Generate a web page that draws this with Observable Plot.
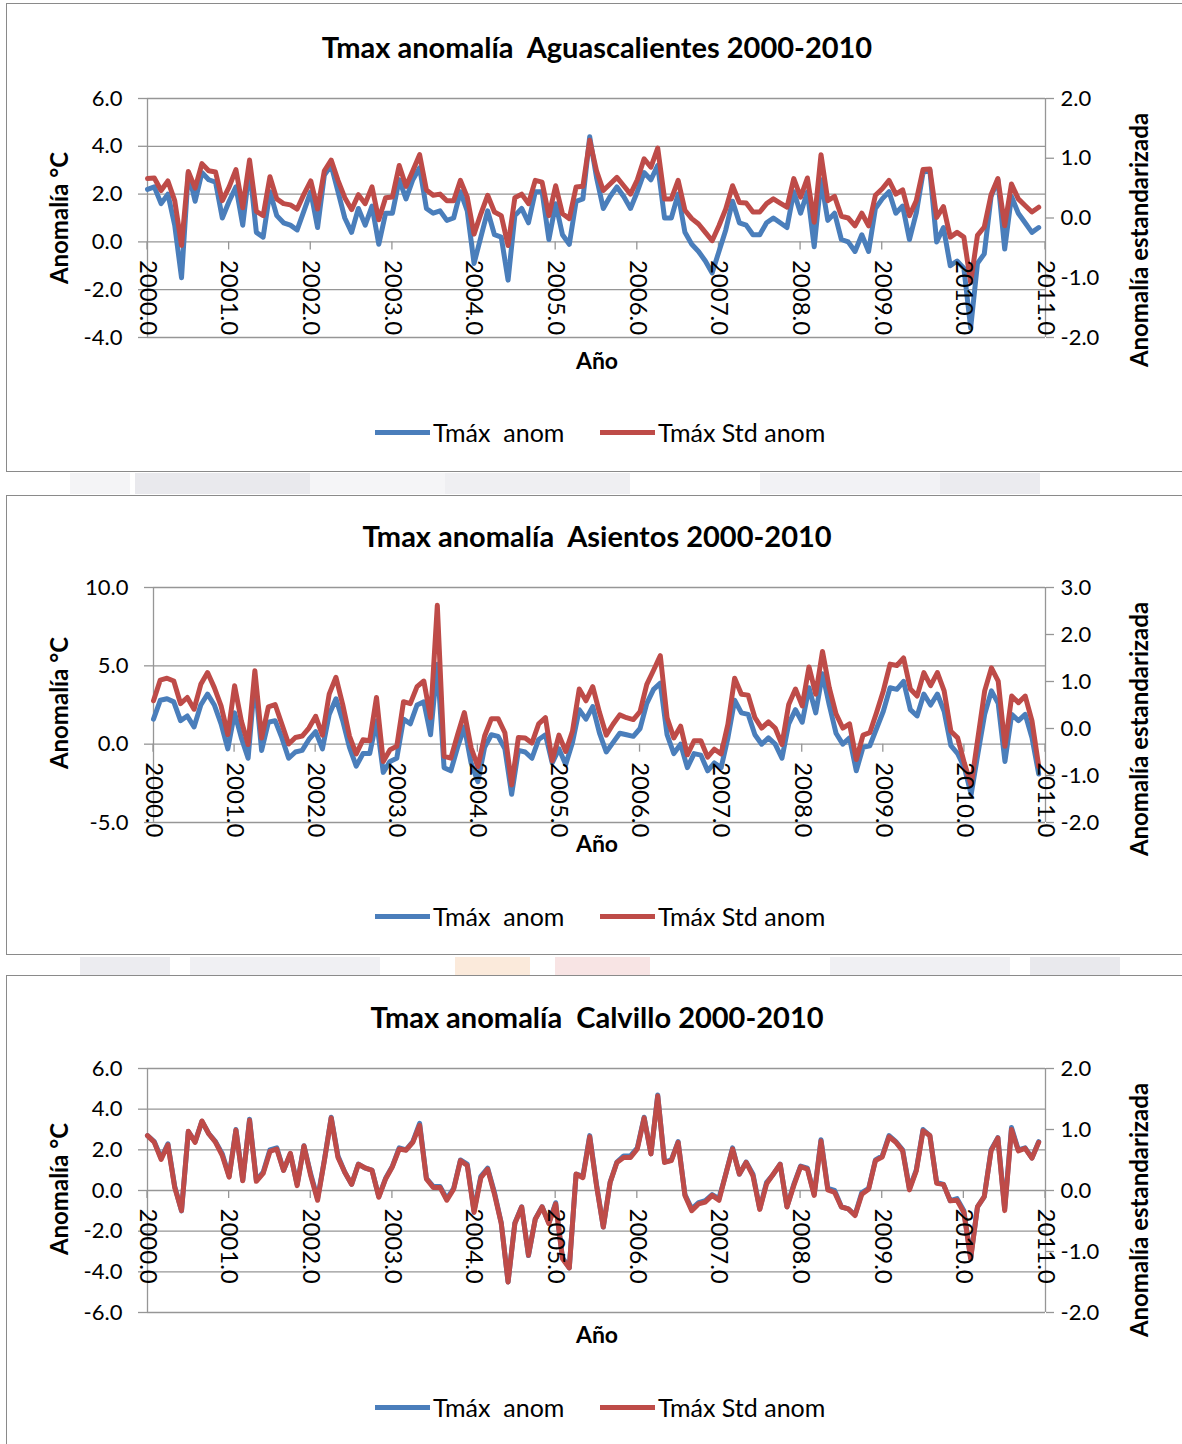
<!DOCTYPE html>
<html><head><meta charset="utf-8">
<script src="https://cdn.jsdelivr.net/npm/d3@7"></script>
<script src="https://cdn.jsdelivr.net/npm/@observablehq/plot@0.6"></script>
<style>
body{margin:0;background:#fff;}
#root{position:relative;width:1182px;height:1444px;overflow:hidden;font-family:Lato,"Open Sans",sans-serif;color:#000;background:#fff;}
.box{position:absolute;border:1.5px solid #8a8a8a;box-sizing:border-box;}
.abs{position:absolute;white-space:pre;}
.title{font-weight:700;font-size:29px;}
.axt{font-weight:700;font-size:24px;}
.ano{font-weight:700;font-size:23px;}
.leg{font-size:25px;}
.swatch{position:absolute;height:5px;}
.band{position:absolute;}
svg{position:absolute;left:0;overflow:visible;}
</style>
</head><body><div id="root"></div>
<script>
// ---------- data ----------
const years = [2000,2001,2002,2003,2004,2005,2006,2007,2008,2009,2010,2011];
const seriesNames = ["Tmáx  anom", "Tmáx Std anom"];

const aguasAnom = [
 2.2,2.3,1.6,2.0,0.7,-1.5,2.9,1.7,2.9,2.6,2.5,1.0,
 1.7,2.3,0.7,3.1,0.4,0.2,2.1,1.1,0.8,0.7,0.5,1.3,
 2.1,0.6,2.8,3.2,2.1,1.0,0.4,1.4,0.7,1.5,-0.1,1.2,
 1.2,2.6,1.8,2.6,3.1,1.4,1.2,1.3,0.9,1.0,2.1,1.3,
 -0.9,0.2,1.3,0.3,0.2,-1.6,1.1,1.4,0.8,2.1,2.1,0.1,
 1.6,0.3,-0.1,1.7,1.8,4.4,2.7,1.4,1.9,2.3,1.9,1.4,
 2.1,2.9,2.6,3.2,1.0,1.0,2.0,0.4,-0.1,-0.4,-0.8,-1.3,
 -0.4,0.5,1.7,0.8,0.7,0.3,0.3,0.8,1.0,0.8,0.6,2.1,
 1.2,2.1,-0.2,2.6,0.9,1.2,0.1,0.0,-0.4,0.3,-0.4,1.4,
 1.8,2.1,1.2,1.5,0.1,1.2,2.9,3.0,0.0,0.6,-1.0,-0.8,
 -1.1,-3.6,-0.9,-0.5,1.9,2.6,-0.3,1.9,1.2,0.8,0.4,0.6];
const aguasStd = [
 0.66,0.67,0.46,0.62,0.29,-0.46,0.78,0.50,0.91,0.79,0.77,0.29,
 0.52,0.81,0.17,0.97,0.11,0.04,0.69,0.32,0.24,0.22,0.15,0.40,
 0.62,0.15,0.79,0.97,0.63,0.34,0.14,0.39,0.24,0.52,-0.03,0.34,
 0.35,0.88,0.53,0.79,1.06,0.47,0.38,0.40,0.29,0.29,0.63,0.35,
 -0.27,0.07,0.38,0.10,0.04,-0.46,0.34,0.40,0.24,0.63,0.60,0.04,
 0.54,0.07,-0.01,0.52,0.53,1.30,0.79,0.46,0.57,0.68,0.54,0.40,
 0.64,0.99,0.85,1.17,0.32,0.32,0.63,0.13,-0.01,-0.10,-0.24,-0.38,
 -0.13,0.15,0.54,0.26,0.25,0.10,0.10,0.24,0.32,0.25,0.18,0.66,
 0.35,0.67,-0.07,1.06,0.29,0.36,0.03,0.00,-0.13,0.08,-0.13,0.38,
 0.49,0.63,0.40,0.47,0.04,0.29,0.81,0.82,0.01,0.19,-0.32,-0.24,
 -0.32,-1.08,-0.29,-0.15,0.39,0.66,-0.13,0.57,0.32,0.21,0.10,0.18];

const asientosAnom = [
 1.6,2.8,2.9,2.7,1.5,1.8,1.1,2.5,3.2,2.5,1.3,-0.3,
 2.0,0.4,-0.9,4.1,-0.4,1.4,1.5,0.4,-0.9,-0.5,-0.4,0.3,
 0.8,-0.3,1.9,2.9,1.5,-0.2,-1.4,-0.6,-0.6,1.5,-1.8,-1.1,
 -0.9,1.6,1.3,2.5,2.7,0.6,5.1,-1.5,-1.7,-0.2,1.1,-1.2,
 -2.4,-0.2,0.6,0.5,-0.3,-3.2,-0.4,-0.5,-0.9,0.3,0.6,-1.2,
 -0.3,-1.3,0.1,2.2,1.6,2.4,0.7,-0.5,0.1,0.7,0.6,0.5,
 1.0,2.6,3.5,3.9,0.6,-0.6,0.0,-1.5,-0.6,-0.7,-1.7,-1.2,
 -1.5,0.4,2.8,2.0,1.9,0.6,0.0,0.4,0.0,-0.9,1.3,2.2,
 1.4,3.6,2.0,4.5,2.5,0.7,0.0,0.4,-1.7,-0.2,-0.1,1.0,
 2.1,3.6,3.5,4.0,2.2,1.8,3.2,2.5,3.2,2.1,-0.1,-0.6,
 -1.5,-3.2,-0.6,1.9,3.4,2.6,-1.1,1.9,1.5,1.9,0.4,-1.9];
const asientosStd = [
 0.59,1.03,1.07,1.01,0.53,0.66,0.41,0.94,1.19,0.87,0.48,-0.13,
 0.91,0.16,-0.34,1.23,-0.20,0.46,0.51,0.09,-0.33,-0.19,-0.16,0.01,
 0.26,-0.14,0.73,1.09,0.51,-0.16,-0.54,-0.24,-0.26,0.66,-0.70,-0.45,
 -0.38,0.57,0.53,0.89,1.01,0.23,2.62,-0.59,-0.63,-0.13,0.34,-0.41,
 -0.81,-0.16,0.21,0.21,-0.09,-1.20,-0.19,-0.20,-0.31,0.10,0.23,-0.69,
 -0.14,-0.49,-0.06,0.84,0.59,0.89,0.34,-0.14,0.09,0.29,0.23,0.19,
 0.36,0.94,1.24,1.55,0.23,-0.20,0.05,-0.56,-0.26,-0.26,-0.61,-0.44,
 -0.54,0.09,1.07,0.73,0.71,0.23,0.01,0.14,0.01,-0.34,0.51,0.84,
 0.48,1.31,0.73,1.64,0.87,0.31,0.01,0.10,-0.66,-0.14,-0.09,0.34,
 0.80,1.37,1.34,1.50,0.84,0.69,1.19,0.91,1.19,0.80,-0.06,-0.20,
 -0.74,-1.20,-0.20,0.80,1.29,1.01,-0.38,0.69,0.55,0.69,0.16,-0.81];

const calvilloAnom = [
 2.7,2.4,1.6,2.3,0.2,-1.0,2.9,2.4,3.4,2.8,2.4,1.8,
 0.7,3.0,0.5,3.5,0.5,0.9,2.0,2.1,1.0,1.8,0.3,2.2,
 0.8,-0.4,1.5,3.6,1.7,0.9,0.3,1.3,1.1,1.0,-0.3,0.6,
 1.2,2.1,2.0,2.4,3.3,0.6,0.2,0.2,-0.4,0.1,1.5,1.3,
 -1.0,0.7,1.1,-0.1,-1.6,-4.5,-1.6,-0.8,-3.2,-1.4,-0.8,-1.6,
 -0.6,-3.3,-3.8,0.8,0.7,2.7,0.3,-1.8,0.4,1.4,1.7,1.7,
 2.1,3.6,1.8,4.7,1.4,1.5,2.4,-0.2,-0.9,-0.6,-0.5,-0.2,
 -0.4,0.8,2.1,0.8,1.4,0.8,-0.9,0.4,0.8,1.3,-0.8,0.3,
 1.2,1.1,-0.2,2.5,0.1,0.0,-0.8,-0.9,-1.2,-0.1,0.1,1.5,
 1.7,2.7,2.4,2.0,0.1,1.0,3.0,2.7,0.4,0.3,-0.5,-0.4,
 -1.0,-3.3,-0.8,-0.3,2.0,2.6,-0.9,3.1,2.0,2.1,1.6,2.4];
const calvilloStd = [
 0.90,0.79,0.51,0.75,0.05,-0.33,0.97,0.79,1.14,0.93,0.79,0.57,
 0.22,0.99,0.16,1.15,0.15,0.28,0.64,0.68,0.33,0.61,0.08,0.73,
 0.24,-0.16,0.49,1.19,0.54,0.30,0.10,0.43,0.37,0.33,-0.11,0.19,
 0.39,0.68,0.66,0.79,1.07,0.19,0.05,0.05,-0.16,0.02,0.49,0.41,
 -0.36,0.21,0.35,-0.06,-0.54,-1.50,-0.54,-0.27,-1.06,-0.47,-0.27,-0.54,
 -0.22,-1.12,-1.27,0.27,0.21,0.88,0.08,-0.60,0.13,0.46,0.54,0.54,
 0.68,1.19,0.60,1.55,0.46,0.49,0.79,-0.08,-0.33,-0.22,-0.19,-0.08,
 -0.16,0.27,0.68,0.27,0.46,0.24,-0.31,0.11,0.27,0.43,-0.27,0.08,
 0.39,0.35,-0.08,0.81,0.01,-0.03,-0.27,-0.30,-0.41,-0.06,0.02,0.49,
 0.55,0.88,0.79,0.65,0.01,0.32,0.98,0.90,0.12,0.10,-0.17,-0.16,
 -0.36,-1.12,-0.27,-0.10,0.65,0.86,-0.33,1.00,0.65,0.69,0.53,0.79];

const leftTicks1 = [-4,-2,0,2,4,6],  rightTicks1 = [-2,-1,0,1,2];
const leftTicks2 = [-5,0,5,10],      rightTicks2 = [-2,-1,0,1,2,3];
const leftTicks3 = [-6,-4,-2,0,2,4,6], rightTicks3 = [-2,-1,0,1,2];

// ---------- layout / style ----------
const BLUE = "#4A7EBB", RED = "#BE4B48", GRID = "#969696";
const panels = [
  {title:"Tmax anomalía  Aguascalientes 2000-2010", anom:aguasAnom, std:aguasStd,
   lt:leftTicks1, rt:rightTicks1, boxTop:3, boxH:469, titleY:46, svgTop:60, mt:38, mb:43, ml:147,
   lTitleY:218, rTitleY:240, anoY:360, legY:432},
  {title:"Tmax anomalía  Asientos 2000-2010", anom:asientosAnom, std:asientosStd,
   lt:leftTicks2, rt:rightTicks2, boxTop:495, boxH:460, titleY:535, svgTop:550, mt:37, mb:48, ml:153,
   lTitleY:703, rTitleY:729, anoY:843, legY:916},
  {title:"Tmax anomalía  Calvillo 2000-2010", anom:calvilloAnom, std:calvilloStd,
   lt:leftTicks3, rt:rightTicks3, boxTop:975, boxH:490, titleY:1016, svgTop:1030, mt:38, mb:38, ml:147,
   lTitleY:1189, rTitleY:1210, anoY:1334, legY:1407}
];
const bands = [
  [473,494,[[70,130,"#f4f4f6"],[135,310,"#e9e9ed"],[310,445,"#f5f5f7"],[445,630,"#efeff2"],[760,940,"#f2f2f5"],[940,1040,"#ebebef"]]],
  [957,975,[[80,170,"#ececf0"],[190,380,"#f0f0f3"],[455,530,"#fbeadb"],[555,650,"#f8e4e4"],[830,1010,"#f0f0f3"],[1030,1120,"#e9e9ed"]]]
];

const root = document.getElementById("root");
function el(cls, css, text){const d=document.createElement("div");d.className=cls;Object.assign(d.style,css);if(text!=null)d.textContent=text;root.appendChild(d);return d;}

for (const [y0,y1,blocks] of bands) for (const [x0,x1,c] of blocks)
  el("band",{left:x0+"px",top:y0+"px",width:(x1-x0)+"px",height:(y1-y0)+"px",background:c});

const months = d3.range(aguasAnom.length).map(i => 2000 + i/12);
const W = 1182, H = 320, MR = 1182 - 1045;

for (const p of panels) {
  el("box",{left:"6px",top:p.boxTop+"px",width:"1200px",height:p.boxH+"px"});
  el("abs title",{left:"597px",top:p.titleY+"px",transform:"translate(-50%,-50%)"},p.title);
  el("abs axt",{left:"58px",top:p.lTitleY+"px",transform:"translate(-50%,-50%) rotate(-90deg)"},"Anomalía °C");
  el("abs axt",{left:"1138px",top:p.rTitleY+"px",transform:"translate(-50%,-50%) rotate(-90deg)"},"Anomalía estandarizada");
  el("abs ano",{left:"597px",top:p.anoY+"px",transform:"translate(-50%,-50%)"},"Año");
  el("swatch",{left:"375px",top:(p.legY-2.5)+"px",width:"55px",background:BLUE});
  el("abs leg",{left:"433px",top:p.legY+"px",transform:"translateY(-50%)"},seriesNames[0]);
  el("swatch",{left:"600px",top:(p.legY-2.5)+"px",width:"55px",background:RED});
  el("abs leg",{left:"658px",top:p.legY+"px",transform:"translateY(-50%)"},seriesNames[1]);

  const lDom = d3.extent(p.lt), rDom = d3.extent(p.rt);
  const toLeft = d3.scaleLinear().domain(rDom).range(lDom);
  const rows = months.map((x,i) => ({x, anom:p.anom[i], std:toLeft(p.std[i])}));

  const xTickMarks = (index, scales) => {
    const g = d3.create("svg:g");
    const y0 = scales.y(0);
    for (const yr of years) g.append("line")
      .attr("x1",scales.x(yr)).attr("x2",scales.x(yr)).attr("y1",y0).attr("y2",y0+8)
      .attr("stroke",GRID).attr("stroke-width",1.3);
    return g.node();
  };

  const svg = Plot.plot({
    width:W, height:H, marginTop:p.mt, marginBottom:p.mb, marginLeft:p.ml, marginRight:MR,
    style:{fontFamily:"Lato, 'Open Sans', sans-serif", fontSize:"22px", color:"#000", background:"transparent"},
    x:{domain:[2000,2011], axis:null}, y:{domain:lDom, axis:null},
    marks:[
      Plot.gridY(p.lt, {stroke:GRID, strokeOpacity:1, strokeWidth:1.3}),
      Plot.ruleX([2000,2011], {stroke:GRID, strokeWidth:1.3}),
      Plot.axisY({anchor:"left", ticks:p.lt, tickFormat:d=>d.toFixed(1), tickSize:9, tickPadding:16,
                  stroke:GRID, strokeWidth:1.3, fill:"#000", fontSize:22, label:null}),
      Plot.axisY({anchor:"right", ticks:p.rt.map(toLeft), tickFormat:d=>toLeft.invert(d).toFixed(1),
                  tickSize:8, tickPadding:7, stroke:GRID, strokeWidth:1.3, fill:"#000", fontSize:22, label:null}),
      xTickMarks,
      Plot.line(rows, {x:"x", y:"anom", stroke:BLUE, strokeWidth:5, strokeLinejoin:"round"}),
      Plot.line(rows, {x:"x", y:"std", stroke:RED, strokeWidth:5, strokeLinejoin:"round"}),
      Plot.text(years, {x:d=>d, y:0, text:d=>d.toFixed(1), rotate:90, textAnchor:"start",
                        lineAnchor:"middle", dy:18, fontSize:24, fill:"#000"})
    ]
  });
  svg.style.top = p.svgTop + "px";
  root.appendChild(svg);
}
</script>
</body></html>
